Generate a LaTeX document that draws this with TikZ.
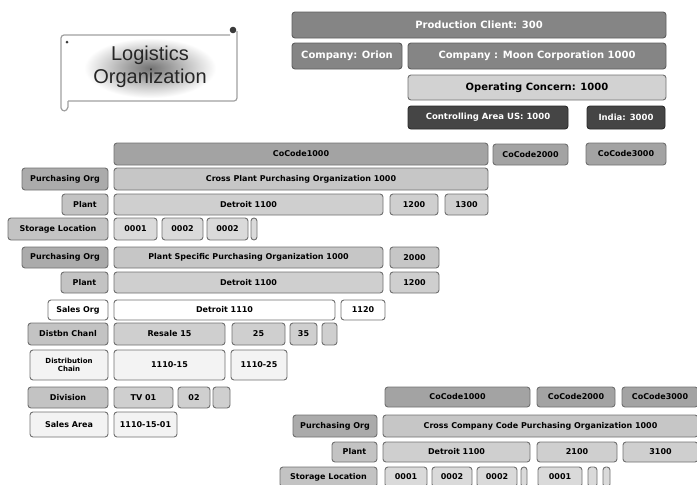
\documentclass[tikz,border=0pt]{standalone}
\usepackage{fontspec}
\setmainfont{DejaVu Sans}
\newfontfamily\logfont{Liberation Sans}
\definecolor{cDark}{HTML}{858585}
\definecolor{cDarkB}{HTML}{5E5E5E}
\definecolor{cOp}{HTML}{D2D2D2}
\definecolor{cCtl}{HTML}{454545}
\definecolor{cCtlB}{HTML}{2B2B2B}
\definecolor{cCo}{HTML}{A3A3A3}
\definecolor{cLabD}{HTML}{ABABAB}
\definecolor{cLabM}{HTML}{C3C3C3}
\definecolor{cLt}{HTML}{C6C6C6}
\definecolor{cDet}{HTML}{CFCFCF}
\definecolor{cSt}{HTML}{DADADA}
\definecolor{cWhG}{HTML}{F3F3F3}
\definecolor{bord}{HTML}{707070}
\definecolor{scrl}{HTML}{A0A0A0}
\definecolor{scrd}{HTML}{3A3A3A}
\tikzset{
  bxs/.style={draw=bord, line width=0.9pt, rounded corners=3pt, inner sep=0pt, outer sep=0pt,
    font=\bfseries\fontsize{8}{9}\selectfont, text=black},
  topbx/.style={bxs, fill=cDark, draw=cDarkB, text=white, font=\bfseries\fontsize{10}{12}\selectfont},
  opbx/.style={bxs, fill=cOp, font=\bfseries\fontsize{10}{12}\selectfont},
  ctlbx/.style={bxs, fill=cCtl, draw=cCtlB, text=white, font=\bfseries\fontsize{8.5}{10}\selectfont},
  cocbx/.style={bxs, fill=cCo},
  lbdbx/.style={bxs, fill=cLabD},
  lbmbx/.style={bxs, fill=cLabM},
  ltbx/.style={bxs, fill=cLt},
  detbx/.style={bxs, fill=cDet},
  stbx/.style={bxs, fill=cSt},
  whbx/.style={bxs, fill=white},
  whgbx/.style={bxs, fill=cWhG},
  scrollline/.style={draw=scrl, line width=1.2pt},
}
\newcommand{\bx}[7]{\node[#6, minimum width={(#4-#2)*1pt}, minimum height={(#5-#3)*1pt}] (#1) at ({(#2+#4)/2},{(#3+#5)/2}) {#7};}
\begin{document}
\begin{tikzpicture}[x=1pt,y=-1pt]
\useasboundingbox (0,0) rectangle (697,485);
% Logistics callout
\shade[inner color=black!55, outer color=white] (84,38) rectangle (216,98);
\draw[scrollline, rounded corners=3pt] (61,108) -- (61,35) -- (230,35);
\draw[scrollline, rounded corners=3pt] (237,31) -- (237,101) -- (68,101);
\draw[scrollline] (61,108) .. controls (62,112) and (67,112) .. (68,107) -- (68,101);
\fill[scrd] (233,30) circle (3.3);
\fill[scrd] (67,42) circle (1.5);
\node[font=\logfont\fontsize{20}{23}\selectfont, text=black!85, align=center] (logi) at (150,67) {Logistics\\Organization};
% top
\bx{pc}{292}{12}{666}{38}{topbx}{Production Client: 300}
\bx{orion}{292}{43}{402}{69}{topbx}{Company: Orion}
\bx{moon}{408}{43}{666}{69}{topbx}{Company : Moon Corporation 1000}
\bx{opc}{408}{75}{666}{100}{opbx}{Operating Concern: 1000}
\bx{cus}{408}{106}{568}{129}{ctlbx}{Controlling Area US: 1000}
\bx{cin}{587}{106}{665}{129}{ctlbx}{India: 3000}
% block A
\bx{cca}{114}{143}{488}{165}{cocbx}{CoCode1000}
\bx{ccb}{493}{144}{568}{165}{cocbx}{CoCode2000}
\bx{ccc}{586}{143}{666}{165}{cocbx}{CoCode3000}
\bx{poaL}{22}{168}{108}{190}{lbdbx}{Purchasing Org}
\bx{poa}{114}{168}{488}{190}{ltbx}{Cross Plant Purchasing Organization 1000}
\bx{plaL}{62}{194}{108}{215}{lbmbx}{Plant}
\bx{plaa}{114}{194}{383}{215}{detbx}{Detroit 1100}
\bx{plab}{390}{194}{438}{215}{detbx}{1200}
\bx{plac}{445}{194}{488}{215}{detbx}{1300}
\bx{slaL}{8}{218}{108}{240}{lbmbx}{Storage Location}
\bx{slaa}{114}{218}{157}{240}{stbx}{0001}
\bx{slab}{162}{218}{203}{240}{stbx}{0002}
\bx{slac}{207}{218}{248}{240}{stbx}{0002}
\bx{slad}{251}{218}{257}{240}{stbx}{}
% block B
\bx{pobL}{22}{247}{108}{268}{lbdbx}{Purchasing Org}
\bx{pob}{114}{247}{383}{268}{ltbx}{Plant Specific Purchasing Organization 1000}
\bx{pobb}{390}{247}{439}{268}{ltbx}{2000}
\bx{plbL}{61}{272}{108}{293}{lbmbx}{Plant}
\bx{plb}{114}{272}{383}{293}{detbx}{Detroit 1100}
\bx{plbb}{390}{272}{439}{293}{detbx}{1200}
\bx{soL}{48}{300}{108}{320}{whbx}{Sales Org}
\bx{soa}{114}{300}{335}{320}{whbx}{Detroit 1110}
\bx{sob}{341}{300}{385}{320}{whbx}{1120}
\bx{dcL}{28}{323}{108}{345}{lbmbx}{Distbn Chanl}
\bx{dca}{114}{323}{225}{345}{detbx}{Resale 15}
\bx{dcb}{232}{323}{285}{345}{detbx}{25}
\bx{dcc}{290}{323}{317}{345}{detbx}{35}
\bx{dcd}{322}{323}{337}{345}{detbx}{}
\bx{chL}{30}{350}{108}{380}{whgbx, align=center, font=\bfseries\fontsize{7}{8}\selectfont}{Distribution\\Chain}
\bx{cha}{114}{350}{225}{380}{whgbx}{1110-15}
\bx{chb}{231}{350}{287}{380}{whgbx}{1110-25}
\bx{dvL}{28}{387}{108}{408}{lbmbx}{Division}
\bx{dva}{114}{387}{173}{408}{detbx}{TV 01}
\bx{dvb}{178}{387}{210}{408}{detbx}{02}
\bx{dvc}{213}{387}{230}{408}{detbx}{}
\bx{saL}{30}{412}{108}{437}{whgbx}{Sales Area}
\bx{sa}{114}{412}{177}{437}{whgbx}{1110-15-01}
% block C
\bx{ccd}{385}{387}{530}{407}{cocbx}{CoCode1000}
\bx{cce}{537}{387}{615}{407}{cocbx}{CoCode2000}
\bx{ccf}{622}{387}{698}{407}{cocbx}{CoCode3000}
\bx{pocL}{293}{415}{377}{437}{lbdbx}{Purchasing Org}
\bx{poc}{383}{415}{698}{437}{ltbx}{Cross Company Code Purchasing Organization 1000}
\bx{plcL}{332}{442}{377}{462}{lbmbx}{Plant}
\bx{plca}{383}{442}{530}{462}{detbx}{Detroit 1100}
\bx{plcb}{537}{442}{617}{462}{detbx}{2100}
\bx{plcc}{623}{442}{698}{462}{detbx}{3100}
\bx{slcL}{280}{467}{377}{487}{lbmbx}{Storage Location}
\bx{slca}{385}{467}{427}{487}{stbx}{0001}
\bx{slcb}{432}{467}{472}{487}{stbx}{0002}
\bx{slcc}{477}{467}{517}{487}{stbx}{0002}
\bx{slcd}{521}{467}{527}{487}{stbx}{}
\bx{slce}{538}{467}{582}{487}{stbx}{0001}
\bx{slcf}{588}{467}{597}{487}{stbx}{}
\bx{slcg}{603}{467}{610}{487}{stbx}{}
\end{tikzpicture}
\end{document}
